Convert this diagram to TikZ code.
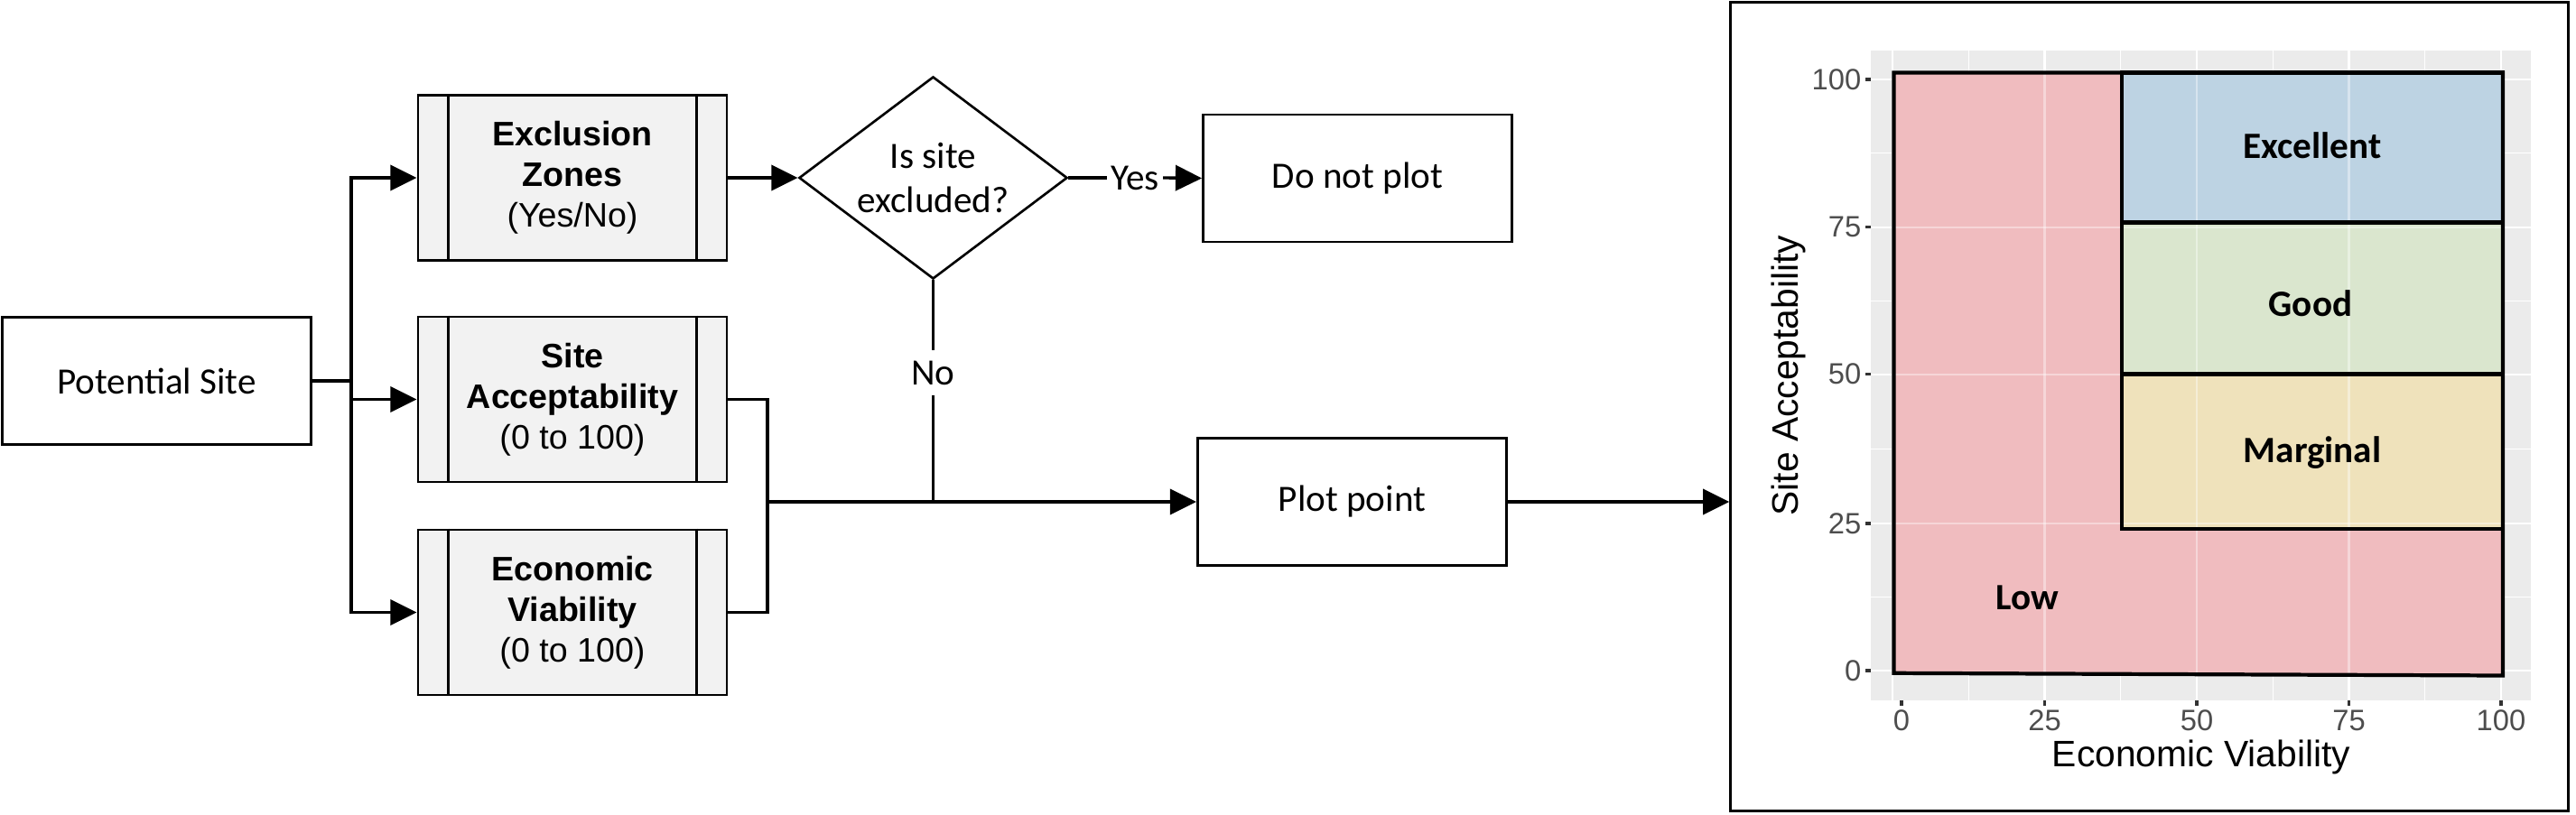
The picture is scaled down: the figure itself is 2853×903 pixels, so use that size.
\documentclass[tikz,border=0pt]{standalone}
\usepackage{fontspec}
\setmainfont{Carlito}
\newfontfamily\arial{Liberation Sans}
\usetikzlibrary{arrows.meta,shapes.geometric}
\definecolor{procfill}{HTML}{F2F2F2}
\definecolor{panelgray}{HTML}{EBEBEB}
\definecolor{lowred}{HTML}{F0BCBF}
\definecolor{exblue}{HTML}{BDD3E3}
\definecolor{goodgreen}{HTML}{DAE6CE}
\definecolor{margyellow}{HTML}{EFE2BB}
\definecolor{ticklab}{HTML}{4D4D4D}
\definecolor{tickcol}{HTML}{333333}
\tikzset{
  box/.style={draw, line width=0.75pt, fill=white, minimum width=3.42cm, minimum height=1.41cm, inner sep=0pt, align=center, font=\fontsize{11.7}{13.7}\selectfont},
  proc/.style={draw, line width=0.75pt, fill=procfill, minimum width=3.42cm, minimum height=1.83cm, inner sep=0pt, align=center, font=\arial\fontsize{10.7}{12.8}\selectfont},
  decision/.style={draw, line width=0.75pt, fill=white, diamond, aspect=1.33, minimum width=2.97cm, minimum height=2.24cm, inner sep=0pt, align=center, font=\fontsize{11.7}{13.7}\selectfont},
  lbl/.style={fill=white, font=\fontsize{11.7}{13.7}\selectfont},
  conn/.style={line width=0.95pt},
  arr/.style={conn, -{Triangle[length=8.3pt,width=8pt]}},
  grid major/.style={white, line width=0.6pt},
  grid minor/.style={white, line width=0.3pt},
  zone/.style={line width=1.2pt},
  region/.style={font=\bfseries\fontsize{11.7}{13.7}\selectfont},
  ticklabel/.style={text=ticklab, inner sep=0pt, font=\arial\fontsize{9.3}{11}\selectfont},
  tickmark/.style={tickcol, line width=0.9pt},
  axistitle/.style={inner sep=0pt, font=\arial\fontsize{11.6}{13}\selectfont}
}
\begin{document}
\begin{tikzpicture}[x=0.01cm,y=-0.01cm]
\useasboundingbox (0,0) rectangle (2853,903);

% flowchart nodes
\node[box] (ps) at (173.5,422) {Potential Site};
\node[proc] (ez) at (634,197) {\textbf{Exclusion}\\\textbf{Zones}\\(Yes/No)};
\node[proc] (sa) at (634,442.5) {\textbf{Site}\\\textbf{Acceptability}\\(0 to 100)};
\node[proc] (ev) at (634,678.5) {\textbf{Economic}\\\textbf{Viability}\\(0 to 100)};
\foreach \n in {ez,sa,ev}{
  \draw[line width=0.75pt] ([xshift=0.35cm]\n.north west) -- ([xshift=0.35cm]\n.south west);
  \draw[line width=0.75pt] ([xshift=-0.35cm]\n.north east) -- ([xshift=-0.35cm]\n.south east);
}
\node[decision] (dia) at (1033.5,197) {Is site\\excluded?};
\node[box] (dnp) at (1503.5,197.5) {Do not plot};
\node[box] (pp) at (1497.5,556) {Plot point};
\node[lbl, inner xsep=1pt, inner ysep=0pt] (yes) at (1257,197) {Yes};
\node[lbl, inner xsep=0pt, inner ysep=3pt] (no) at (1033.5,413) {No};
\coordinate (j) at (389,422);
\coordinate (m) at (850,556);
\coordinate (mn) at (1033.5,556);

% connectors
\draw[conn] (ps.east) -- (j);
\draw[arr] (j) |- (ez.west);
\draw[arr] (j) |- (sa.west);
\draw[arr] (j) |- (ev.west);
\draw[arr] (ez.east) -- (dia.west);
\draw[conn] (dia.east) -- (yes.west);
\draw[arr] (yes.east) -- (dnp.west);
\draw[conn] (dia.south) -- (no.north);
\draw[conn] (no.south) -- (mn);
\draw[conn] (sa.east) -| (m);
\draw[conn] (ev.east) -| (m);
\draw[arr] (m) -- (pp.west);

% chart frame
\node[draw, line width=0.85pt, minimum width=9.27cm, minimum height=8.95cm, inner sep=0pt] (frame) at (2380.5,450.5) {};
\draw[arr] (pp.east) -- (pp.east -| frame.west);

% panel
\fill[panelgray] (2072,56) rectangle (2803,776);
\foreach \x in {2180.25,2348.75,2517.25,2685.75} \draw[grid minor] (\x,56) -- (\x,776);
\foreach \y in {169.85,333.15,497.3,661.5} \draw[grid minor] (2072,\y) -- (2803,\y);
\foreach \x in {2096,2264.5,2433,2601.5,2770} \draw[grid major] (\x,56) -- (\x,776);
\foreach \y in {88,251.7,414.6,580,743} \draw[grid major] (2072,\y) -- (2803,\y);

% regions
\fill[lowred] (2097.5,80.6) -- (2772,80.6) -- (2772,748.5) -- (2097.5,745.8) -- cycle;
\fill[exblue] (2350,80.6) rectangle (2772,246.5);
\fill[goodgreen] (2350,246.5) rectangle (2772,414.6);
\fill[margyellow] (2350,414.6) rectangle (2772,585.7);
\begin{scope}[opacity=0.4]
\foreach \x in {2264.5,2433,2601.5} \draw[grid major] (\x,80.6) -- (\x,746);
\foreach \y in {251.7,414.6,580} \draw[grid major] (2097.5,\y) -- (2772,\y);
\end{scope}
\draw[zone] (2097.5,80.6) -- (2772,80.6) -- (2772,748.5) -- (2097.5,745.8) -- cycle;
\draw[zone] (2350,80.6) rectangle (2772,246.5);
\draw[zone] (2350,246.5) rectangle (2772,414.6);
\draw[zone] (2350,414.6) rectangle (2772,585.7);

\node[region] (rex) at (2561,161) {Excellent};
\node[region] (rgo) at (2559,336) {Good};
\node[region] (rma) at (2561,502) {Marginal};
\node[region] (rlo) at (2245,662) {Low};

% ticks and labels
\foreach \y/\t in {88/100,251.7/75,414.6/50,580/25,743/0}{
  \draw[tickmark] (2066,\y) -- (2072,\y);
  \node[ticklabel, anchor=east] at (2062,\y) {\t};
}
\foreach \x/\t in {2106/0,2264.5/25,2433/50,2601.5/75,2770/100}{
  \draw[tickmark] (\x,776) -- (\x,782);
  \node[ticklabel, anchor=north] at (\x,786) {\t};
}
\node[axistitle, anchor=base] (xt) at (2438,849) {Economic Viability};
\node[axistitle, anchor=base, rotate=90] (yt) at (1991,416) {Site Acceptability};
\end{tikzpicture}
\end{document}
